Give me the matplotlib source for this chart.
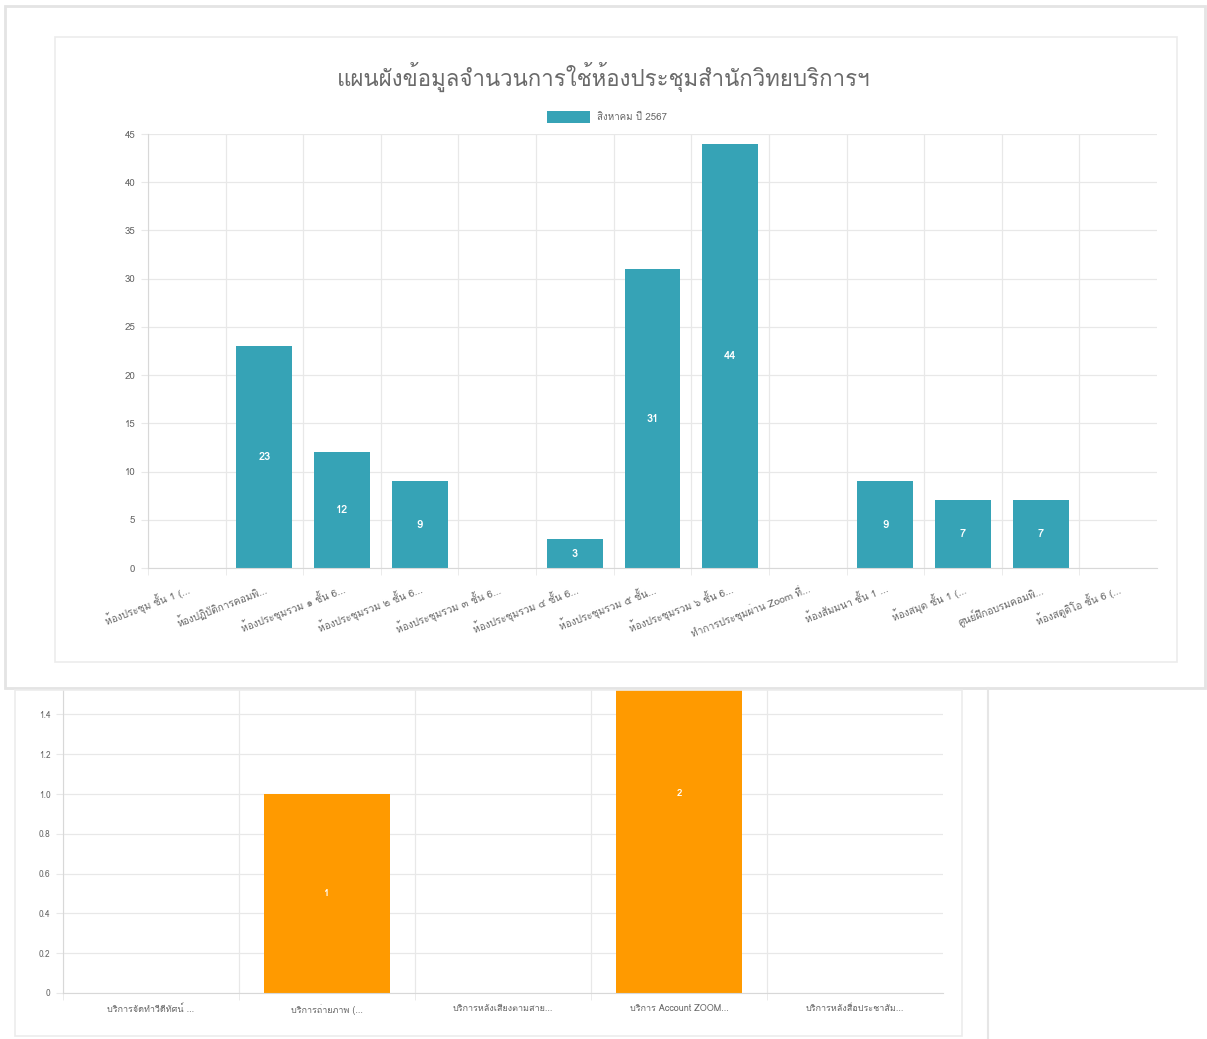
import matplotlib
matplotlib.use("Agg")
import matplotlib.pyplot as plt
from matplotlib import font_manager
from matplotlib.patches import Rectangle
from matplotlib.lines import Line2D
import numpy as np

# top chart: rooms
rooms = ["ห้องประชุม ชั้น 1 (...", "ห้องปฏิบัติการคอมพิ...", "ห้องประชุมรวม ๑ ชั้น 6...",
         "ห้องประชุมรวม ๒ ชั้น 6...", "ห้องประชุมรวม ๓ ชั้น 6...", "ห้องประชุมรวม ๔ ชั้น 6...",
         "ห้องประชุมรวม ๕ ชั้น...", "ห้องประชุมรวม ๖ ชั้น 6...", "ทำการประชุมผ่าน Zoom ที่...",
         "ห้องสัมมนา ชั้น 1 ...", "ห้องสมุด ชั้น 1 (...", "ศูนย์ฝึกอบรมคอมพิ...",
         "ห้องสตูดิโอ ชั้น 6 (..."]
room_uses = [0, 23, 12, 9, 0, 3, 31, 44, 0, 9, 7, 7, 0]
series_name = "สิงหาคม ปี 2567"
title = "แผนผังข้อมูลจำนวนการใช้ห้องประชุมสำนักวิทยบริการฯ"

# bottom chart: services
services = ["บริการจัดทำวีดีทัศน์ ...", "บริการถ่ายภาพ (...", "บริการหลังเสียงตามสาย...",
            "บริการ Account ZOOM...", "บริการหลังสื่อประชาสัม..."]
service_uses = [0, 1, 0, 2, 0]

# find a font with Thai glyphs if there is one
thai = [f.name for f in font_manager.fontManager.ttflist if "thai" in f.name.lower()
        or f.name in ("Loma", "Garuda", "Kinnari", "Norasi", "Sawasdee", "Umpush", "Waree", "Tlwg Typo")]
fams = (thai[:1] if thai else []) + ["DejaVu Sans"]
plt.rcParams["font.family"] = fams

TEAL = "#36a3b6"
ORANGE = "#ff9a00"
GRID = "#e8e8e8"
TXT = "#666666"

W, H = 1207, 1039
fig = plt.figure(figsize=(W / 100, H / 100), dpi=100)


def fx(x):
    return x / W


def fy(y):
    return 1 - y / H


def box(x0, y0, x1, y1, color="#e6e6e6", lw=1.2):
    fig.patches.append(Rectangle((fx(x0), fy(y1)), fx(x1 - x0), (y1 - y0) / H,
                                 transform=fig.transFigure, fill=False,
                                 edgecolor=color, linewidth=lw, zorder=0))


# card frames
box(5, 6, 1205, 688, "#e4e4e4", 2)
box(55, 37, 1177, 662, "#ececec", 1.2)
box(15, 690, 962, 1036, "#ececec", 1.2)
fig.lines.append(Line2D([fx(988), fx(988)], [fy(688), 0], transform=fig.transFigure,
                        color="#e6e6e6", linewidth=1.5))


def style(ax, n):
    ax.set_xlim(-0.5, n - 0.5)
    ax.set_xticks(np.arange(n) - 0.5, minor=True)
    ax.grid(True, which="minor", axis="x", color=GRID, linewidth=0.9)
    ax.grid(True, which="major", axis="y", color=GRID, linewidth=0.9)
    ax.tick_params(axis="x", which="major", length=0, colors=TXT, pad=4)
    ax.tick_params(axis="x", which="minor", length=5, color=GRID)
    ax.tick_params(axis="y", length=5, color=GRID, colors=TXT, labelsize=7, pad=4)
    ax.set_axisbelow(True)
    for s in ("top", "right"):
        ax.spines[s].set_visible(False)
    for s in ("left", "bottom"):
        ax.spines[s].set_color("#d8d8d8")


# top chart
ax1 = fig.add_axes([fx(148), fy(568), fx(1157 - 148), (568 - 134) / H])
x1 = np.arange(len(rooms))
bars1 = ax1.bar(x1, room_uses, width=0.72, color=TEAL, label=series_name, zorder=2)
ax1.set_ylim(0, 45)
ax1.set_yticks(np.arange(0, 46, 5))
style(ax1, len(rooms))
ax1.set_xticks(x1)
ax1.set_xticklabels(rooms, rotation=21, ha="right", rotation_mode="anchor", fontsize=7.3)
ax1.tick_params(axis="x", which="major", pad=10)
for b, v in zip(bars1, room_uses):
    if v > 0:
        ax1.text(b.get_x() + b.get_width() / 2, v / 2, str(v), ha="center", va="center",
                 color="white", fontsize=8, fontweight="bold")
fig.text(0.5, fy(77), title, ha="center", va="center", fontsize=16, color="#6a6a6a")
fig.patches.append(Rectangle((fx(547), fy(123)), fx(43), 12 / H, transform=fig.transFigure,
                             facecolor=TEAL, edgecolor="none"))
fig.text(fx(597), fy(117), series_name, ha="left", va="center", fontsize=7, color=TXT)

# bottom chart (partly hidden under the top one)
ax2 = fig.add_axes([fx(63), fy(993), fx(943 - 63), (993 - 688) / H])
x2 = np.arange(len(services))
bars2 = ax2.bar(x2, service_uses, width=0.72, color=ORANGE, zorder=2)
ax2.set_ylim(0, (993 - 688) / (993 - 794))
ax2.set_yticks(np.arange(0, 1.41, 0.2))
ax2.set_yticklabels(["0", "0.2", "0.4", "0.6", "0.8", "1.0", "1.2", "1.4"])
style(ax2, len(services))
ax2.tick_params(axis="y", labelsize=6)
ax2.set_xticks(x2)
ax2.set_xticklabels(services, fontsize=6.5)
ax2.tick_params(axis="x", which="major", pad=8)
for b, v in zip(bars2, service_uses):
    if v > 0:
        ax2.text(b.get_x() + b.get_width() / 2, v / 2, str(v), ha="center", va="center",
                 color="white", fontsize=7, fontweight="bold")

fig.savefig("out.png", dpi=100, facecolor="white")
